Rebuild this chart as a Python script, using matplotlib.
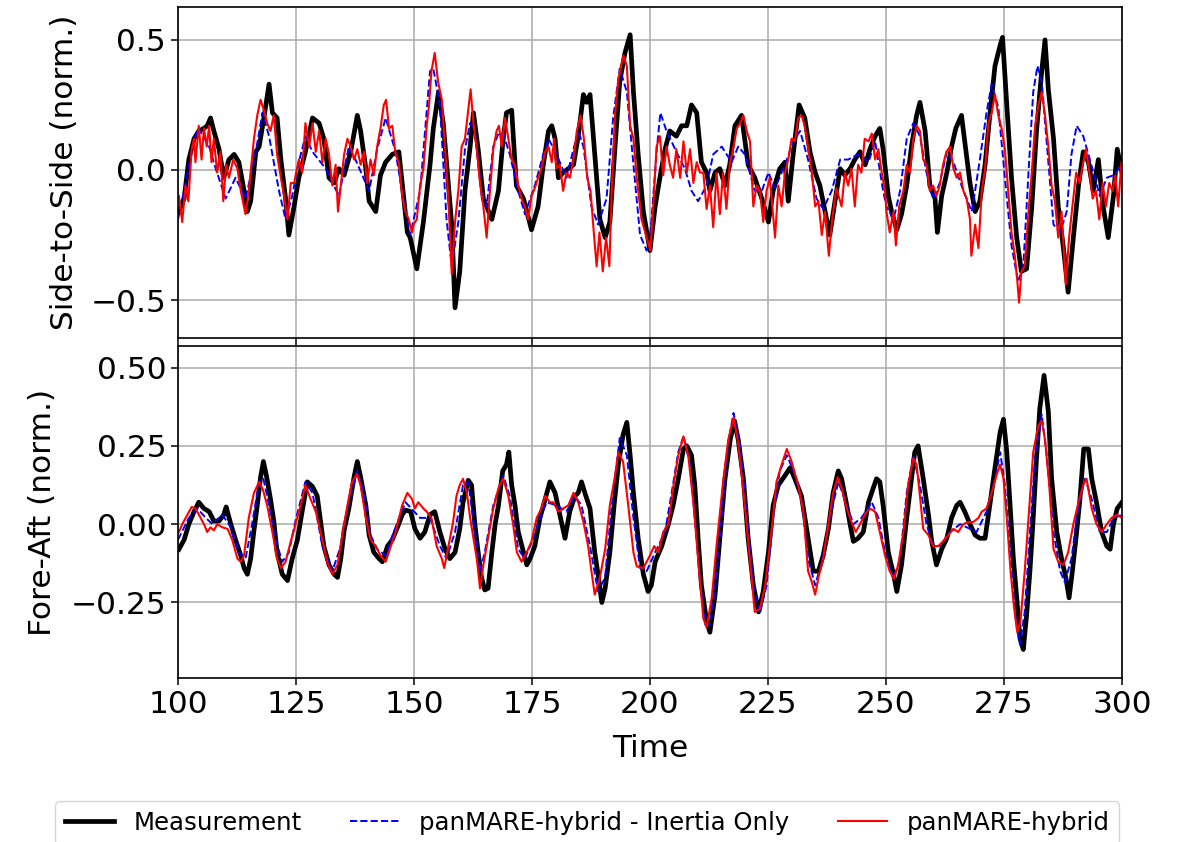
import matplotlib
matplotlib.use("Agg")
import matplotlib.pyplot as plt

# ---- Side-to-Side (top panel) ----
ss_meas_t = [100.2, 101.3, 102.3, 103.4, 104.4, 105.5, 106.2, 106.9, 107.6, 108.7, 109.7, 110.8, 111.9, 112.9,
             114.0, 114.7, 115.4, 116.5, 117.2, 118.2, 119.3, 120.0, 121.0, 121.8, 122.8, 123.5, 124.6, 125.6,
             127.0, 128.5, 129.9, 130.9, 132.0, 133.1, 134.1, 135.2, 136.6, 138.0, 138.7, 139.8, 140.5, 141.9,
             142.9, 144.0, 145.4, 146.8, 147.5, 148.6, 149.2, 150.6, 152.0, 153.4, 154.1, 155.2, 156.2, 156.9,
             158.0, 158.7, 159.7, 160.8, 161.9, 162.6, 163.6, 164.7, 166.5, 167.9, 168.9, 169.6, 170.7, 171.7,
             173.2, 174.9, 176.3, 177.4, 178.5, 179.2, 179.9, 180.6, 181.6, 182.7, 183.8, 184.8, 185.9, 186.6,
             187.3, 188.3, 189.4, 190.5, 191.5, 192.6, 193.6, 194.7, 195.8, 196.5, 197.5, 198.6, 200.0, 201.1,
             202.1, 203.2, 204.2, 205.6, 206.7, 207.8, 208.8, 209.9, 210.9, 212.0, 212.7, 213.8, 214.8, 215.9,
             216.9, 218.0, 219.4, 220.8, 222.2, 223.7, 225.1, 226.1, 227.5, 228.6, 229.3, 230.4, 231.6, 232.8,
             233.9, 235.0, 236.0, 237.1, 238.1, 239.2, 240.3, 241.3, 242.4, 243.4, 244.5, 245.6, 246.6, 247.7,
             248.7, 249.4, 250.5, 251.2, 252.3, 253.3, 254.4, 255.4, 256.5, 257.2, 258.3, 259.3, 260.4, 260.9,
             261.8, 262.9, 263.9, 264.8, 266.0, 266.7, 267.8, 268.9, 269.9, 271.0, 272.0, 273.1, 274.2, 274.7,
             275.6, 276.6, 277.7, 278.7, 279.8, 280.9, 281.9, 283.0, 283.7, 284.4, 285.5, 286.5, 287.6, 288.6,
             289.7, 290.8, 291.8, 292.9, 293.9, 295.0, 296.0, 297.1, 298.2, 299.0, 300.0]
ss_meas = [-0.16, -0.11, 0.04, 0.12, 0.15, 0.16, 0.17, 0.20, 0.15, 0.08, -0.03, 0.04, 0.06, 0.03,
           -0.08, -0.16, -0.12, 0.07, 0.09, 0.20, 0.33, 0.22, 0.20, 0.04, -0.11, -0.25, -0.14, -0.03,
           0.07, 0.20, 0.18, 0.12, -0.03, -0.05, 0.005, -0.02, 0.07, 0.21, 0.15, 0.005, -0.12, -0.16,
           -0.02, 0.03, 0.06, 0.07, -0.05, -0.24, -0.26, -0.38, -0.20, 0.02, 0.16, 0.30, 0.18, 0.03,
           -0.21, -0.53, -0.39, -0.08, 0.09, 0.22, 0.08, -0.11, -0.19, -0.08, 0.12, 0.22, 0.23, -0.06,
           -0.11, -0.23, -0.14, 0.02, 0.15, 0.17, 0.12, -0.03, -0.01, 0.005, 0.02, 0.13, 0.29, 0.26,
           0.29, 0.06, -0.19, -0.26, -0.20, 0.09, 0.34, 0.45, 0.52, 0.30, 0.06, -0.16, -0.31, -0.14,
           -0.03, 0.08, 0.15, 0.13, 0.17, 0.17, 0.25, 0.22, 0.03, -0.01, -0.08, -0.01, 0.005, -0.06,
           0.02, 0.17, 0.21, 0.02, -0.03, -0.11, -0.20, -0.08, 0.005, 0.03, -0.12, 0.07, 0.25, 0.20,
           0.07, -0.01, -0.06, -0.16, -0.25, -0.12, 0.005, -0.02, 0.005, 0.04, 0.07, 0.02, 0.08, 0.13,
           0.16, 0.08, -0.10, -0.16, -0.23, -0.17, -0.06, 0.09, 0.21, 0.26, 0.15, -0.06, -0.11, -0.24,
           -0.10, -0.01, 0.09, 0.16, 0.21, 0.11, -0.05, -0.16, -0.12, 0.02, 0.21, 0.40, 0.48, 0.51,
           0.25, -0.03, -0.26, -0.39, -0.38, -0.14, 0.15, 0.38, 0.50, 0.31, 0.12, -0.14, -0.30, -0.47,
           -0.26, -0.06, 0.07, 0.03, -0.08, 0.04, -0.14, -0.26, -0.10, 0.08, -0.01]

ss_inert_t = [100.0, 101.3, 103.4, 104.4, 106.6, 108.0, 110.1, 112.2, 114.3, 116.1, 117.9, 119.3, 121.4, 122.8,
              124.2, 125.6, 127.0, 128.5, 131.3, 134.1, 136.2, 137.6, 140.5, 142.2, 144.0, 146.1, 148.2, 149.2,
              151.3, 153.4, 154.1, 155.5, 156.9, 158.0, 159.4, 160.8, 161.9, 162.9, 164.3, 165.4, 166.8, 167.9,
              168.9, 170.3, 172.1, 173.5, 175.6, 177.4, 178.5, 180.2, 182.3, 183.8, 184.8, 185.9, 187.6, 189.0,
              190.8, 192.2, 193.6, 195.1, 196.5, 197.9, 199.3, 200.0, 200.7, 201.4, 202.2, 203.5, 205.6, 207.4,
              208.8, 210.2, 212.0, 213.4, 215.2, 217.3, 218.7, 220.1, 222.2, 223.7, 225.1, 226.5, 228.6, 230.4,
              231.8, 233.5, 235.3, 236.7, 238.5, 240.3, 242.0, 244.1, 246.3, 247.7, 249.4, 250.1, 251.6, 253.0,
              254.4, 255.8, 257.2, 258.6, 260.0, 261.4, 262.9, 264.3, 266.4, 268.2, 269.9, 271.3, 272.4, 273.8,
              275.2, 276.6, 278.0, 279.1, 280.2, 281.2, 282.1, 283.0, 284.0, 285.5, 286.9, 288.3, 289.3, 290.4,
              291.8, 293.2, 295.3, 296.8, 298.2, 300.0]
ss_inert = [-0.19, -0.08, 0.12, 0.16, 0.09, 0.005, -0.11, -0.03, -0.11, 0.03, 0.22, 0.13, -0.08, -0.19,
            -0.10, 0.03, 0.13, 0.07, 0.005, -0.10, 0.09, 0.04, -0.08, 0.08, 0.20, 0.07, -0.16, -0.25,
            -0.08, 0.38, 0.39, 0.25, -0.19, -0.37, -0.20, 0.08, 0.18, 0.15, -0.08, -0.14, 0.09, 0.14,
            0.14, 0.06, -0.08, -0.17, -0.06, 0.06, 0.12, 0.06, -0.03, 0.08, 0.15, 0.09, -0.14, -0.21,
            -0.11, 0.20, 0.39, 0.30, 0.02, -0.25, -0.31, -0.27, -0.10, 0.07, 0.22, 0.15, 0.07, 0.005,
            -0.08, -0.12, -0.06, 0.06, 0.09, 0.03, 0.09, 0.06, -0.08, -0.08, -0.01, -0.07, 0.02, 0.11,
            0.15, 0.04, -0.11, -0.15, -0.08, 0.04, 0.04, 0.06, 0.03, 0.11, -0.08, -0.14, -0.19, -0.08,
            0.12, 0.18, 0.13, -0.01, -0.11, -0.05, 0.07, 0.03, -0.08, -0.16, 0.04, 0.22, 0.33, 0.24,
            -0.03, -0.29, -0.43, -0.37, -0.01, 0.30, 0.40, 0.34, 0.12, -0.21, -0.24, -0.16, 0.06, 0.17,
            0.13, 0.04, -0.10, -0.03, -0.02, 0.02]

ss_hyb_t = [100.2, 100.9, 101.6, 102.2, 102.9, 103.4, 103.7, 104.4, 105.0, 105.5, 106.1, 106.6, 107.1, 107.6,
            108.3, 109.0, 109.6, 110.2, 110.8, 111.7, 112.6, 113.3, 114.3, 115.0, 116.1, 116.8, 117.5, 118.2,
            118.9, 119.6, 120.3, 121.0, 121.8, 122.5, 123.2, 123.9, 124.6, 125.6, 126.3, 127.0, 127.8, 128.5,
            129.2, 129.9, 130.6, 131.3, 132.0, 132.7, 133.4, 133.9, 134.5, 135.2, 135.9, 136.6, 137.3, 138.0,
            138.7, 139.4, 140.1, 140.8, 141.5, 142.2, 142.9, 143.6, 144.1, 144.7, 145.4, 146.1, 146.8, 147.5,
            148.2, 148.9, 149.6, 149.9, 150.6, 151.3, 152.0, 152.7, 153.2, 153.7, 154.4, 155.1, 155.9, 156.6,
            157.3, 158.0, 158.7, 159.4, 160.1, 160.8, 161.5, 162.0, 162.6, 163.3, 164.0, 164.7, 165.4, 166.1,
            166.8, 167.5, 168.0, 168.6, 169.3, 170.0, 170.7, 171.4, 172.1, 172.8, 173.5, 174.2, 174.9, 175.6,
            176.3, 177.0, 177.8, 178.5, 179.2, 179.7, 180.2, 180.9, 181.6, 182.3, 183.0, 183.8, 184.5, 185.3,
            186.0, 186.7, 187.4, 188.1, 188.7, 189.3, 190.0, 190.7, 191.4, 191.9, 192.6, 193.3, 194.4, 195.1,
            195.8, 196.5, 197.2, 198.2, 199.3, 200.1, 200.7, 201.4, 202.1, 202.8, 203.5, 204.2, 204.9, 205.6,
            206.4, 207.1, 207.8, 208.5, 209.2, 209.9, 210.6, 211.3, 212.0, 212.7, 213.4, 214.1, 214.8, 215.5,
            216.2, 216.9, 217.7, 218.4, 219.1, 219.8, 220.5, 221.2, 221.9, 222.6, 223.3, 224.0, 224.7, 225.4,
            226.5, 227.2, 227.9, 228.6, 229.3, 230.0, 230.7, 231.4, 232.1, 232.8, 233.5, 234.3, 235.0, 235.7,
            236.4, 237.1, 237.9, 238.6, 239.5, 240.6, 241.3, 242.0, 242.7, 243.4, 244.1, 244.8, 245.5, 246.3,
            247.0, 247.7, 248.4, 249.1, 249.8, 250.1, 250.8, 251.6, 252.1, 252.8, 253.7, 254.4, 255.1, 255.8,
            256.5, 257.2, 257.9, 258.6, 259.3, 260.0, 260.7, 261.4, 262.1, 262.8, 263.6, 264.3, 265.0, 265.7,
            266.4, 267.1, 267.8, 268.1, 268.9, 269.6, 270.3, 271.0, 271.7, 272.4, 273.1, 273.8, 274.5, 275.2,
            275.9, 276.6, 277.3, 277.8, 278.2, 278.7, 279.4, 280.2, 280.9, 281.6, 282.3, 283.0, 283.7, 284.4,
            285.1, 285.8, 286.5, 287.2, 288.1, 288.8, 289.5, 290.3, 291.0, 291.7, 292.4, 293.1, 293.8, 294.5,
            295.2, 295.9, 296.6, 297.3, 298.0, 298.6, 299.2, 299.9]
ss_hyb = [-0.10, -0.20, -0.06, -0.12, 0.08, 0.12, 0.03, 0.17, 0.04, 0.16, 0.09, 0.17, 0.03, 0.12,
          -0.01, 0.07, -0.12, 0.02, -0.03, 0.04, 0.005, -0.08, -0.17, -0.08, 0.12, 0.21, 0.27, 0.23,
          0.18, 0.15, 0.21, 0.06, -0.03, -0.10, -0.19, -0.05, -0.05, 0.04, -0.01, 0.18, 0.09, 0.18,
          0.07, 0.15, 0.03, 0.12, 0.06, -0.06, 0.02, -0.16, -0.06, 0.06, 0.12, 0.09, 0.04, 0.08,
          0.02, 0.07, -0.05, 0.04, -0.02, 0.09, 0.16, 0.25, 0.27, 0.16, 0.17, 0.06, 0.03, -0.10,
          -0.16, -0.19, -0.24, -0.21, -0.19, -0.06, 0.005, 0.17, 0.25, 0.38, 0.45, 0.34, 0.27, 0.08,
          -0.11, -0.40, -0.20, -0.08, 0.09, 0.12, 0.23, 0.31, 0.18, 0.08, -0.05, -0.14, -0.26, -0.08,
          0.08, 0.15, 0.17, 0.09, 0.20, 0.12, 0.04, 0.02, -0.06, -0.11, -0.14, -0.19, -0.10, -0.07,
          -0.03, 0.005, 0.07, 0.09, 0.03, 0.12, 0.005, 0.02, -0.08, -0.01, -0.03, 0.04, 0.15, 0.21,
          0.12, -0.03, -0.08, -0.24, -0.37, -0.24, -0.39, -0.26, -0.37, -0.08, 0.21, 0.35, 0.44, 0.40,
          0.17, 0.12, -0.03, -0.19, -0.26, -0.31, -0.14, 0.09, 0.13, -0.02, 0.09, 0.02, -0.03, 0.08,
          -0.03, 0.11, -0.01, 0.08, -0.05, 0.03, -0.01, -0.01, -0.15, -0.06, -0.22, -0.01, -0.17, -0.01,
          -0.15, 0.02, 0.09, 0.16, 0.18, 0.21, 0.15, 0.11, -0.14, -0.06, -0.08, -0.20, -0.08, -0.03,
          -0.26, -0.06, -0.14, -0.01, 0.04, 0.12, 0.11, 0.20, 0.21, 0.17, 0.09, -0.01, -0.14, -0.12,
          -0.25, -0.16, -0.33, -0.19, -0.07, -0.14, -0.01, -0.06, 0.005, -0.14, 0.02, -0.01, 0.12, 0.11,
          0.14, 0.04, 0.08, -0.01, -0.08, -0.16, -0.24, -0.16, -0.29, -0.14, -0.08, 0.02, -0.01, 0.12,
          0.17, 0.15, 0.04, 0.02, -0.08, -0.06, -0.10, -0.06, 0.02, 0.07, 0.09, 0.005, -0.03, -0.01,
          -0.08, -0.11, -0.19, -0.33, -0.21, -0.30, -0.08, 0.005, 0.18, 0.22, 0.29, 0.21, 0.16, 0.08,
          -0.08, -0.24, -0.33, -0.42, -0.51, -0.39, -0.37, -0.16, -0.01, 0.17, 0.25, 0.30, 0.21, 0.09,
          -0.06, -0.12, -0.26, -0.16, -0.44, -0.26, -0.14, -0.01, -0.05, 0.02, 0.08, -0.01, -0.11, -0.08,
          -0.19, -0.05, -0.14, -0.05, -0.08, -0.02, -0.14, 0.03]

# ---- Fore-Aft (bottom panel) ----
fa_meas_t = [100.2, 101.3, 102.3, 103.4, 104.4, 105.5, 106.6, 107.6, 108.7, 109.7, 110.2, 111.2, 112.2, 113.3,
             114.0, 114.7, 115.4, 116.1, 116.8, 117.5, 118.1, 118.8, 119.6, 120.3, 121.0, 122.1, 123.2, 124.2,
             125.3, 126.3, 127.4, 128.5, 129.5, 130.2, 130.9, 132.0, 133.1, 133.8, 134.5, 135.2, 136.2, 137.3,
             138.0, 138.7, 139.8, 140.5, 141.5, 142.6, 143.3, 144.4, 145.4, 146.5, 147.5, 148.2, 149.3, 150.2,
             151.3, 152.3, 153.4, 154.4, 155.5, 156.6, 157.6, 158.7, 159.7, 160.4, 161.5, 162.2, 162.9, 163.6,
             164.3, 165.0, 165.7, 166.5, 167.2, 167.9, 168.8, 169.6, 170.1, 170.7, 171.4, 172.1, 173.2, 173.9,
             174.6, 175.6, 176.7, 177.8, 178.8, 179.9, 180.9, 182.0, 183.0, 184.1, 184.8, 185.5, 186.2, 187.3,
             188.3, 189.1, 189.8, 190.5, 191.5, 192.4, 193.3, 194.3, 195.1, 195.8, 196.5, 197.5, 198.6, 199.6,
             200.3, 201.1, 202.5, 203.9, 204.9, 206.0, 207.1, 207.8, 208.8, 209.5, 210.2, 210.9, 212.0, 212.7,
             213.8, 214.8, 215.9, 217.0, 217.9, 218.7, 219.8, 220.8, 221.9, 223.0, 224.0, 225.1, 226.1, 227.2,
             228.6, 229.7, 230.7, 232.1, 233.5, 234.6, 235.7, 236.7, 237.8, 238.8, 239.9, 240.6, 241.7, 242.4,
             243.1, 244.1, 245.2, 246.3, 247.3, 248.0, 248.7, 249.4, 250.5, 251.6, 252.3, 253.3, 254.4, 255.4,
             256.1, 256.8, 257.9, 259.0, 259.7, 260.7, 261.8, 262.9, 263.9, 265.0, 265.7, 266.7, 267.8, 268.9,
             269.9, 271.0, 272.0, 273.1, 274.2, 274.9, 275.6, 276.3, 277.0, 277.7, 278.4, 279.1, 279.8, 280.5,
             281.2, 281.9, 282.6, 283.5, 284.4, 285.1, 286.2, 287.2, 288.1, 288.8, 289.5, 290.4, 291.1, 291.9,
             292.9, 293.6, 294.6, 295.7, 296.8, 297.5, 298.2, 299.0, 300.0]
fa_meas = [-0.08, -0.05, 0.0, 0.04, 0.07, 0.05, 0.04, 0.01, 0.01, 0.03, 0.055, 0.0, -0.05, -0.10,
           -0.14, -0.16, -0.11, -0.02, 0.06, 0.15, 0.20, 0.15, 0.08, 0.01, -0.09, -0.16, -0.18, -0.11,
           -0.05, 0.04, 0.135, 0.12, 0.09, 0.01, -0.07, -0.13, -0.16, -0.17, -0.11, -0.02, 0.05, 0.15,
           0.20, 0.15, 0.06, -0.035, -0.09, -0.11, -0.12, -0.07, -0.05, -0.01, 0.03, 0.045, 0.04, -0.015,
           -0.045, -0.025, 0.03, 0.04, -0.025, -0.08, -0.11, -0.09, -0.015, 0.07, 0.14, 0.125, 0.0, -0.09,
           -0.17, -0.21, -0.205, -0.09, 0.0, 0.06, 0.17, 0.19, 0.23, 0.125, 0.06, -0.025, -0.09, -0.13,
           -0.11, -0.07, 0.02, 0.08, 0.135, 0.10, 0.03, -0.045, 0.04, 0.09, 0.10, 0.135, 0.10, 0.05,
           -0.09, -0.17, -0.25, -0.205, -0.09, 0.06, 0.19, 0.285, 0.325, 0.22, 0.10, -0.045, -0.16, -0.215,
           -0.195, -0.12, -0.07, 0.0, 0.06, 0.145, 0.24, 0.25, 0.22, 0.125, -0.045, -0.195, -0.31, -0.345,
           -0.225, -0.045, 0.145, 0.27, 0.33, 0.27, 0.145, -0.045, -0.195, -0.28, -0.215, -0.09, 0.06, 0.125,
           0.155, 0.18, 0.145, 0.09, -0.045, -0.15, -0.15, -0.10, -0.015, 0.10, 0.17, 0.145, 0.06, 0.0,
           -0.055, -0.045, -0.025, 0.07, 0.115, 0.145, 0.135, 0.06, -0.09, -0.16, -0.215, -0.13, 0.02, 0.145,
           0.23, 0.25, 0.145, 0.03, -0.055, -0.13, -0.08, -0.045, 0.02, 0.06, 0.07, 0.04, 0.0, -0.035,
           -0.045, -0.045, 0.06, 0.18, 0.295, 0.335, 0.23, 0.06, -0.11, -0.235, -0.365, -0.40, -0.29, -0.15,
           0.02, 0.21, 0.37, 0.475, 0.36, 0.145, -0.025, -0.11, -0.17, -0.235, -0.15, -0.025, 0.08, 0.24,
           0.24, 0.145, 0.07, -0.025, -0.07, -0.08, 0.0, 0.05, 0.07]

fa_inert_t = [100.0, 102.3, 104.1, 105.9, 107.3, 109.4, 111.2, 112.9, 114.3, 115.7, 117.2, 118.1, 119.3, 120.7,
              122.1, 123.5, 124.9, 127.0, 128.5, 130.6, 132.7, 134.5, 136.2, 138.0, 139.4, 140.8, 142.2, 144.0,
              146.1, 148.2, 151.3, 153.4, 155.5, 156.9, 158.7, 160.4, 161.5, 162.9, 164.0, 165.0, 166.8, 168.9,
              170.3, 172.1, 173.5, 175.3, 177.0, 178.1, 180.2, 182.3, 184.1, 185.5, 187.3, 189.0, 190.5, 191.9,
              193.6, 195.1, 196.5, 197.9, 199.3, 201.1, 203.2, 204.6, 206.0, 207.1, 208.5, 209.5, 210.6, 211.7,
              212.7, 214.1, 215.5, 216.6, 217.7, 219.1, 220.5, 221.9, 223.3, 224.7, 226.1, 227.5, 229.0, 230.4,
              232.1, 233.5, 235.0, 236.4, 238.1, 239.9, 241.3, 243.1, 244.8, 247.0, 248.4, 249.8, 251.6, 253.0,
              254.4, 255.8, 257.2, 258.6, 260.0, 261.4, 263.6, 265.7, 267.8, 269.2, 271.3, 273.1, 274.2, 275.2,
              276.3, 277.3, 278.4, 279.4, 280.5, 281.6, 283.0, 284.0, 285.5, 286.9, 287.9, 289.3, 290.8, 292.2,
              293.6, 295.3, 296.8, 298.2, 300.0]
fa_inert = [-0.05, 0.02, 0.05, 0.02, 0.0, 0.03, -0.01, -0.09, -0.11, 0.0, 0.135, 0.145, 0.06, -0.05,
            -0.12, -0.09, 0.01, 0.135, 0.10, -0.07, -0.15, -0.07, 0.07, 0.17, 0.10, -0.035, -0.08, -0.10,
            -0.01, 0.07, 0.02, 0.02, -0.07, -0.11, -0.025, 0.125, 0.135, -0.025, -0.15, -0.09, 0.06, 0.155,
            0.09, -0.08, -0.11, -0.045, 0.03, 0.07, 0.06, 0.04, 0.09, 0.06, -0.07, -0.215, -0.17, 0.06,
            0.275, 0.22, 0.02, -0.14, -0.15, -0.09, -0.025, 0.10, 0.23, 0.28, 0.19, 0.02, -0.17, -0.32,
            -0.32, -0.17, 0.08, 0.26, 0.355, 0.25, 0.04, -0.195, -0.285, -0.195, 0.02, 0.17, 0.22, 0.17,
            0.08, -0.11, -0.195, -0.12, 0.02, 0.135, 0.08, 0.0, 0.02, 0.07, 0.02, -0.09, -0.175, -0.11,
            0.10, 0.22, 0.125, 0.0, -0.07, -0.07, -0.025, 0.0, -0.015, -0.025, 0.04, 0.145, 0.23, 0.125,
            -0.09, -0.28, -0.385, -0.28, -0.025, 0.21, 0.35, 0.23, -0.025, -0.15, -0.185, -0.11, 0.06, 0.145,
            0.08, -0.025, -0.025, 0.02, 0.03]

fa_hyb_t = [100.2, 100.9, 102.0, 102.9, 103.7, 104.8, 105.5, 106.2, 106.9, 107.6, 108.3, 109.4, 110.5, 111.5,
            112.6, 113.3, 114.0, 115.0, 116.1, 117.2, 118.0, 118.9, 120.0, 121.0, 121.8, 122.8, 123.9, 124.9,
            126.0, 127.0, 128.1, 129.2, 130.6, 131.6, 132.7, 133.8, 134.8, 135.9, 136.9, 137.9, 138.7, 139.8,
            140.8, 141.9, 142.9, 144.0, 145.1, 146.1, 147.5, 148.6, 149.6, 150.2, 150.9, 152.0, 152.7, 153.7,
            154.8, 155.9, 156.4, 157.3, 158.3, 159.0, 159.7, 160.4, 161.2, 161.9, 162.6, 163.3, 164.0, 164.7,
            165.7, 166.8, 167.9, 168.9, 170.0, 171.0, 171.8, 172.8, 173.9, 174.9, 176.0, 177.0, 177.8, 178.8,
            179.5, 180.6, 181.6, 182.7, 183.8, 184.8, 185.9, 186.9, 187.6, 188.3, 189.4, 190.5, 191.5, 192.6,
            193.3, 194.3, 195.4, 196.5, 197.2, 198.6, 200.0, 200.9, 201.8, 202.8, 203.9, 204.9, 206.0, 207.1,
            208.1, 209.2, 210.2, 211.3, 212.0, 213.1, 214.1, 215.5, 216.6, 217.7, 218.7, 220.1, 221.2, 222.2,
            223.3, 224.4, 225.8, 226.8, 227.9, 229.0, 230.0, 231.4, 232.5, 233.5, 234.3, 235.0, 235.7, 236.7,
            237.8, 238.8, 239.8, 240.6, 241.7, 242.7, 243.6, 244.5, 245.5, 246.6, 247.7, 248.7, 249.8, 250.8,
            251.7, 252.6, 253.7, 254.7, 255.8, 256.5, 257.2, 257.9, 259.0, 260.0, 261.1, 262.1, 263.2, 264.3,
            265.3, 266.4, 267.4, 268.5, 269.6, 270.3, 271.3, 272.4, 273.4, 274.2, 274.9, 275.6, 276.4, 277.1,
            277.8, 278.5, 279.4, 280.4, 281.2, 282.3, 283.0, 283.7, 284.6, 285.5, 286.5, 287.6, 288.6, 289.7,
            290.8, 291.8, 292.5, 293.6, 294.6, 295.7, 296.8, 297.8, 298.9, 300.0]
fa_hyb = [-0.025, 0.0, 0.03, 0.055, 0.05, 0.02, 0.0, -0.025, -0.01, -0.02, 0.0, -0.01, -0.015, -0.05,
          -0.11, -0.12, -0.10, 0.02, 0.10, 0.135, 0.11, 0.06, -0.025, -0.11, -0.14, -0.12, -0.055, 0.0,
          0.06, 0.125, 0.08, 0.04, -0.05, -0.12, -0.16, -0.13, -0.035, 0.06, 0.135, 0.16, 0.125, 0.02,
          -0.05, -0.07, -0.10, -0.12, -0.07, -0.025, 0.06, 0.10, 0.08, 0.05, 0.07, 0.05, 0.04, 0.02,
          -0.07, -0.11, -0.14, -0.07, 0.007, 0.09, 0.125, 0.145, 0.10, 0.02, -0.045, -0.11, -0.205, -0.13,
          -0.045, 0.05, 0.115, 0.145, 0.09, 0.0, -0.09, -0.12, -0.09, -0.055, 0.02, 0.05, 0.09, 0.07,
          0.07, 0.04, 0.05, 0.06, 0.10, 0.07, 0.007, -0.07, -0.15, -0.225, -0.17, -0.08, 0.06, 0.155,
          0.23, 0.20, 0.06, -0.09, -0.135, -0.14, -0.10, -0.07, -0.09, -0.025, 0.0, 0.115, 0.22, 0.28,
          0.22, 0.07, -0.11, -0.30, -0.33, -0.235, -0.07, 0.135, 0.27, 0.34, 0.26, 0.06, -0.12, -0.28,
          -0.27, -0.195, -0.015, 0.135, 0.19, 0.24, 0.20, 0.125, 0.04, -0.15, -0.185, -0.225, -0.17, -0.11,
          0.0, 0.10, 0.15, 0.115, 0.05, 0.007, -0.025, 0.0, 0.03, 0.05, 0.04, -0.025, -0.10, -0.15,
          -0.175, -0.13, -0.025, 0.125, 0.21, 0.19, 0.09, -0.015, -0.035, -0.07, -0.07, -0.055, -0.035, -0.015,
          -0.025, 0.0, 0.007, 0.007, 0.02, 0.04, 0.05, 0.10, 0.155, 0.19, 0.145, 0.02, -0.15, -0.26,
          -0.345, -0.31, -0.15, 0.06, 0.23, 0.315, 0.33, 0.27, 0.125, -0.08, -0.12, -0.13, -0.09, 0.0,
          0.07, 0.125, 0.145, 0.05, 0.0, -0.025, 0.0, 0.02, 0.03, 0.02]

labels = ["Measurement", "panMARE-hybrid - Inertia Only", "panMARE-hybrid"]
xticks = [100, 125, 150, 175, 200, 225, 250, 275, 300]

fig = plt.figure(figsize=(11.81, 8.42), dpi=100)
ax1 = fig.add_axes([0.1507, 0.5986, 0.7993, 0.3935])
ax2 = fig.add_axes([0.1507, 0.1948, 0.7993, 0.394], sharex=ax1)

for ax, (mt, mv, it, iv, ht, hv) in zip(
        [ax1, ax2],
        [(ss_meas_t, ss_meas, ss_inert_t, ss_inert, ss_hyb_t, ss_hyb),
         (fa_meas_t, fa_meas, fa_inert_t, fa_inert, fa_hyb_t, fa_hyb)]):
    ax.plot(mt, mv, color='black', lw=3.4, label=labels[0])
    ax.plot(it, iv, color='blue', lw=1.4, ls='--', label=labels[1])
    ax.plot(ht, hv, color='red', lw=1.5, label=labels[2])
    ax.grid(True, color='#b0b0b0', lw=1.2)
    ax.tick_params(labelsize=22.5, length=5, width=1.1)
    for s in ax.spines.values():
        s.set_linewidth(1.2)

ax1.set_xlim(100, 300)
ax1.set_xticks(xticks)
ax1.tick_params(labelbottom=False)
ax1.set_ylim(-0.646, 0.628)
ax1.set_yticks([-0.5, 0.0, 0.5])
ax2.set_ylim(-0.491, 0.568)
ax2.set_yticks([-0.25, 0.0, 0.25, 0.5])

ax1.set_ylabel("Side-to-Side (norm.)", fontsize=22.5, labelpad=8)
ax2.set_ylabel("Fore-Aft (norm.)", fontsize=22.5, labelpad=10)
ax2.set_xlabel("Time", fontsize=22.5, labelpad=11)

handles, labs = ax2.get_legend_handles_labels()
fig.legend(handles, labs, loc='upper left', bbox_to_anchor=(55 / 1181, 1 - 801 / 842),
           ncol=3, fontsize=17.6, frameon=True, borderaxespad=0)

fig.savefig("out.png", dpi=100)
